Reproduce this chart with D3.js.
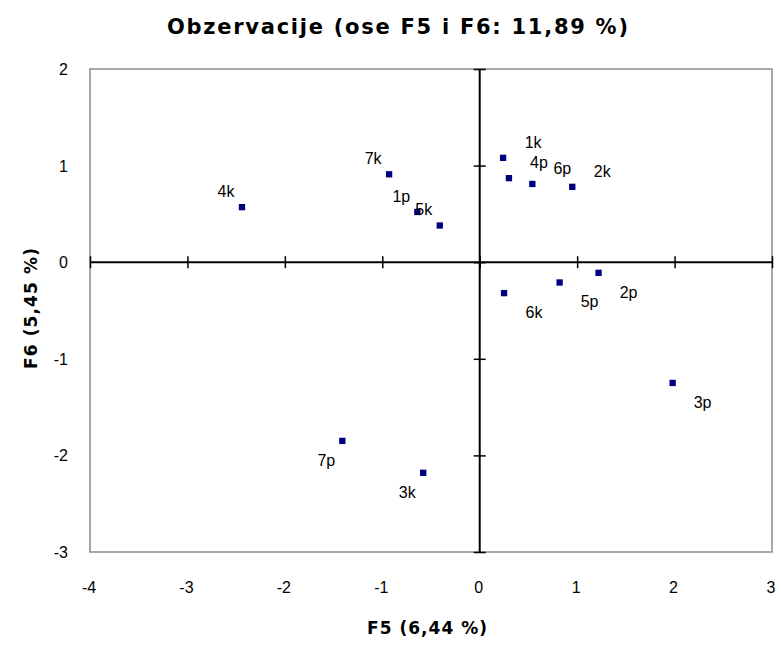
<!DOCTYPE html>
<html>
<head>
<meta charset="utf-8">
<script src="https://cdn.jsdelivr.net/npm/d3@7"></script>
<style>
  html, body { margin: 0; padding: 0; background: #fff; }
  svg { display: block; font-family: "Liberation Sans", Arial, sans-serif; }
  .heading { font-family: "DejaVu Sans", "Liberation Sans", sans-serif; font-weight: bold; }
</style>
</head>
<body>
<svg id="chart" width="781" height="647"></svg>
<script>
// Observation scores on factors F5 and F6
const labels = ["4k", "7k", "1p", "5k", "1k", "4p", "6p", "2k", "6k", "5p", "2p", "3p", "7p", "3k"];
const f5 = [-2.44, -0.93, -0.64, -0.41, 0.24, 0.30, 0.54, 0.95, 0.25, 0.82, 1.22, 1.98, -1.41, -0.58];
const f6 = [0.57, 0.91, 0.52, 0.38, 1.08, 0.87, 0.81, 0.78, -0.32, -0.21, -0.11, -1.25, -1.85, -2.18];
const xTicks = [-4, -3, -2, -1, 0, 1, 2, 3];
const yTicks = [2, 1, 0, -1, -2, -3];

const svg = d3.select("#chart");
const plotL = 90, plotR = 772, plotT = 69, plotB = 552;

const x = d3.scaleLinear().domain([-4, 3]).range([plotL, plotR]);
const y = d3.scaleLinear().domain([-3, 2]).range([plotB, plotT]);

// Title
svg.append("text").attr("class", "heading")
  .attr("x", 167).attr("y", 34)
  .attr("font-size", 21)
  .attr("textLength", 461).attr("lengthAdjust", "spacing")
  .text("Obzervacije (ose F5 i F6: 11,89 %)");

// Plot frame
svg.append("rect")
  .attr("x", plotL).attr("y", plotT)
  .attr("width", plotR - plotL).attr("height", plotB - plotT)
  .attr("fill", "none").attr("stroke", "#8c8c8c").attr("stroke-width", 1.5);

// Axes through the origin
const xAxis = d3.axisBottom(x).tickValues(xTicks).tickSize(12).tickFormat("");
const gx = svg.append("g").attr("transform", `translate(0,${y(0) - 6})`).call(xAxis);
gx.select(".domain").remove();
gx.selectAll(".tick line").attr("stroke", "#000").attr("stroke-width", 1.5);
svg.append("line")
  .attr("x1", plotL).attr("x2", plotR).attr("y1", y(0)).attr("y2", y(0))
  .attr("stroke", "#000").attr("stroke-width", 2);

const yAxis = d3.axisLeft(y).tickValues(yTicks).tickSize(12).tickFormat("");
const gy = svg.append("g").attr("transform", `translate(${x(0) + 6},0)`).call(yAxis);
gy.select(".domain").remove();
gy.selectAll(".tick line").attr("stroke", "#000").attr("stroke-width", 1.5);
svg.append("line")
  .attr("x1", x(0)).attr("x2", x(0)).attr("y1", plotT).attr("y2", plotB)
  .attr("stroke", "#000").attr("stroke-width", 2);

// Tick labels along the frame
svg.append("g").selectAll("text").data(xTicks).join("text")
  .attr("x", d => x(d) - 1).attr("y", plotB + 41)
  .attr("text-anchor", "middle").attr("font-size", 16)
  .text(d => d);
svg.append("g").selectAll("text").data(yTicks).join("text")
  .attr("x", plotL - 22).attr("y", d => y(d) + 6)
  .attr("text-anchor", "end").attr("font-size", 16)
  .text(d => d);

// Axis titles
svg.append("text").attr("class", "heading")
  .attr("x", 367).attr("y", 634)
  .attr("font-size", 17)
  .attr("textLength", 120).attr("lengthAdjust", "spacing")
  .text("F5 (6,44 %)");
svg.append("text").attr("class", "heading")
  .attr("transform", "translate(37,369) rotate(-90)")
  .attr("font-size", 17)
  .attr("textLength", 121).attr("lengthAdjust", "spacing")
  .text("F6 (5,45 %)");

// Points
const pts = labels.map((l, i) => ({ label: l, fx: f5[i], fy: f6[i] }));
const marker = d3.symbol().type(d3.symbolSquare).size(40);
svg.append("g").selectAll("path").data(pts).join("path")
  .attr("d", marker)
  .attr("transform", d => `translate(${x(d.fx)},${y(d.fy)})`)
  .attr("fill", "#00007f");

// Point labels, offset away from the origin by quadrant
svg.append("g").selectAll("text").data(pts).join("text")
  .attr("x", d => x(d.fx) + (d.fx < 0 ? -16 : 30))
  .attr("y", d => y(d.fy) + (d.fy < 0 ? 25 : -10))
  .attr("text-anchor", "middle").attr("font-size", 16)
  .text(d => d.label);
</script>
</body>
</html>
